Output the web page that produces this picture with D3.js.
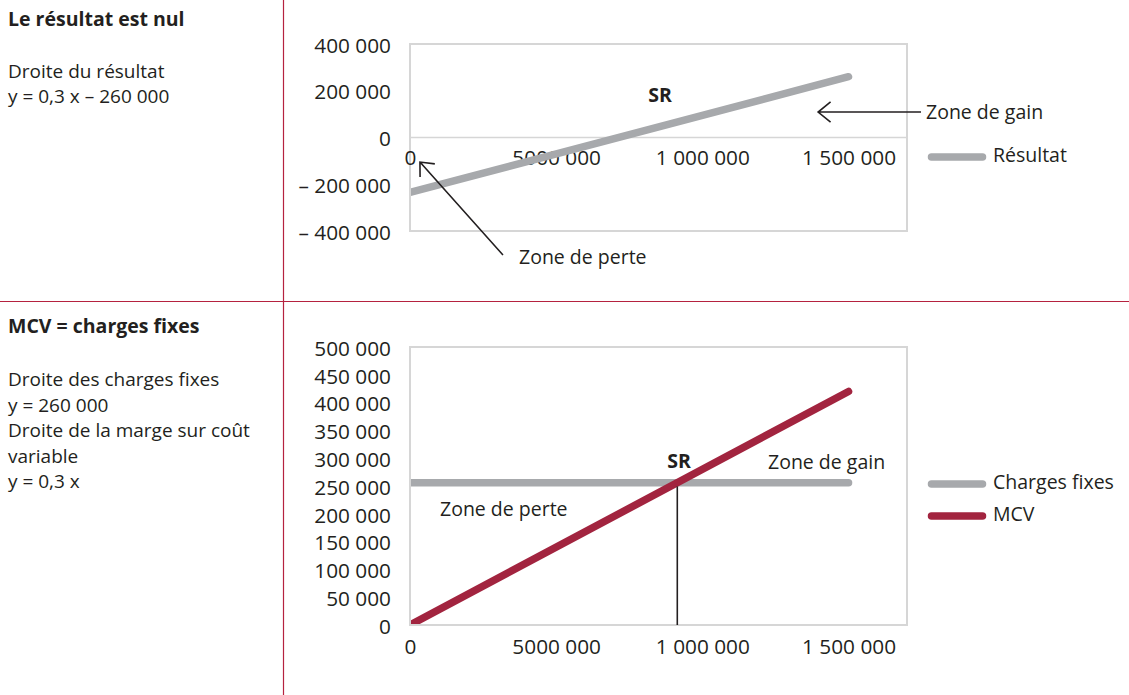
<!DOCTYPE html>
<html>
<head>
<meta charset="utf-8">
<script src="https://cdn.jsdelivr.net/npm/d3@7"></script>
<style>
  html, body { margin: 0; padding: 0; background: #fff; }
  svg { display: block; }
  text { font-family: "Open Sans", "Noto Sans", sans-serif; fill: #231f20; }
</style>
</head>
<body>
<svg id="chart" width="1129" height="695"></svg>
<script>
// ---- Data ----------------------------------------------------------------
// Shared x axis (quantité / chiffre d'affaires)
const xTickValues = [0, 500000, 1000000, 1500000];
const xTickLabels = ["0", "5000 000", "1 000 000", "1 500 000"];

// Panel 1 : droite du résultat
const resultatX = [0, 1500000];
const resultatY = [-235000, 260000];
const topYTicks = [-400000, -200000, 0, 200000, 400000];

// Panel 2 : charges fixes et marge sur coût variable
const chargesFixesX = [0, 1500000];
const chargesFixesY = [256000, 256000];
const mcvX = [0, 1500000];
const mcvY = [0, 420000];
const bottomYTicks = [0, 50000, 100000, 150000, 200000, 250000, 300000, 350000, 400000, 450000, 500000];

// Side texts
const topTitle = "Le résultat est nul";
const topLines = ["Droite du résultat", "y = 0,3 x – 260 000"];
const bottomTitle = "MCV = charges fixes";
const bottomLines = ["Droite des charges fixes", "y = 260 000", "Droite de la marge sur coût", "variable", "y = 0,3 x"];

// ---- Styles --------------------------------------------------------------
const GREY = "#a7a9ac";
const RED = "#a2243f";
const RULE = "#b5223f";
const FRAME = "#d6d6d6";
const INK = "#231f20";
const FS = 19.5;      // body text
const FS_NUM = 20.8;  // axis numbers

const svg = d3.select("#chart");
const fr = d3.formatLocale({ decimal: ",", thousands: " ", grouping: [3], currency: ["", ""], minus: "– " });
const fmt = fr.format(",d");

// Page rules
svg.append("line").attr("x1", 283.5).attr("x2", 283.5).attr("y1", 0).attr("y2", 695)
  .attr("stroke", RULE).attr("stroke-width", 1.2);
svg.append("line").attr("x1", 0).attr("x2", 1129).attr("y1", 301.5).attr("y2", 301.5)
  .attr("stroke", RULE).attr("stroke-width", 1.2);

// Side texts
function sideText(title, lines, titleY, firstY, step) {
  svg.append("text").attr("x", 8).attr("y", titleY)
    .attr("font-size", FS).attr("font-weight", 700).text(title);
  lines.forEach((t, i) => {
    svg.append("text").attr("x", 8).attr("y", firstY + i * step)
      .attr("font-size", 19).text(t);
  });
}
sideText(topTitle, topLines, 26, 77.5, 25);
sideText(bottomTitle, bottomLines, 333, 386, 25.5);

// Common x scale
const left = 410, right = 907;
const x = d3.scaleLinear().domain([0, 1700000]).range([left, right]);

function panel(id, yScale, yTicks, yLabelDy, xLabelY) {
  const [bottom, top] = yScale.range();
  const g = svg.append("g");
  // plot frame
  g.append("rect").attr("x", left).attr("y", top).attr("width", right - left).attr("height", bottom - top)
    .attr("fill", "none").attr("stroke", FRAME).attr("stroke-width", 2);
  // clip for the series
  svg.append("clipPath").attr("id", id).append("rect")
    .attr("x", left + 1).attr("y", top + 1).attr("width", right - left - 2).attr("height", bottom - top - 2);

  // y axis labels
  const ya = d3.axisLeft(yScale).tickValues(yTicks).tickFormat(fmt).tickSize(0).tickPadding(0);
  const yg = g.append("g").attr("transform", `translate(${left - 19},0)`).call(ya);
  yg.select(".domain").remove();
  yg.selectAll("text").attr("font-size", FS_NUM).attr("font-family", null).attr("fill", INK)
    .attr("dy", yLabelDy);

  // x axis labels
  const xa = d3.axisBottom(x).tickValues(xTickValues)
    .tickFormat((d, i) => xTickLabels[i]).tickSize(0).tickPadding(0);
  const xg = g.append("g").attr("transform", `translate(0,${xLabelY})`).call(xa);
  xg.select(".domain").remove();
  xg.selectAll("text").attr("font-size", FS_NUM).attr("font-family", null).attr("fill", INK)
    .attr("dy", 0).attr("y", 0);
  return g;
}

function series(g, clipId, xs, ys, yScale, color) {
  const pts = xs.map((v, i) => [v, ys[i]]);
  g.append("path").datum(pts)
    .attr("clip-path", `url(#${clipId})`)
    .attr("d", d3.line().x(d => x(d[0])).y(d => yScale(d[1])))
    .attr("fill", "none").attr("stroke", color).attr("stroke-width", 7.5)
    .attr("stroke-linecap", "round");
}

function legendItem(y, color, label) {
  svg.append("line").attr("x1", 931.5).attr("x2", 982.5).attr("y1", y).attr("y2", y)
    .attr("stroke", color).attr("stroke-width", 7.5).attr("stroke-linecap", "round");
  svg.append("text").attr("x", 993).attr("y", y + 4.5).attr("font-size", FS).text(label);
}

function arrow(x1, y1, x2, y2, len, ang) {
  // shaft from (x1,y1) to the tip (x2,y2), open chevron head at the tip
  const a = Math.atan2(y1 - y2, x1 - x2);
  const p1 = [x2 + len * Math.cos(a + ang), y2 + len * Math.sin(a + ang)];
  const p2 = [x2 + len * Math.cos(a - ang), y2 + len * Math.sin(a - ang)];
  svg.append("path")
    .attr("d", `M${x1},${y1}L${x2},${y2}M${p1[0]},${p1[1]}L${x2},${y2}L${p2[0]},${p2[1]}`)
    .attr("fill", "none").attr("stroke", INK).attr("stroke-width", 1.6);
}

function label(xp, yp, t, opts = {}) {
  svg.append("text").attr("x", xp).attr("y", yp).attr("font-size", FS)
    .attr("font-weight", opts.bold ? 700 : 400)
    .attr("text-anchor", opts.anchor || "start").text(t);
}

// ---- Panel 1 : résultat --------------------------------------------------
const y1 = d3.scaleLinear().domain([-400000, 400000]).range([231, 44]);
const g1 = panel("clip-top", y1, topYTicks, 8, 165);
// zero line
g1.append("line").attr("x1", left).attr("x2", right).attr("y1", y1(0)).attr("y2", y1(0))
  .attr("stroke", FRAME).attr("stroke-width", 1.5);
series(g1, "clip-top", resultatX, resultatY, y1, GREY);

label(660, 102, "SR", { bold: true, anchor: "middle" });
arrow(x(318000), y1(-503000), x(34000), y1(-105000), 15, 0.72);
label(519, 264, "Zone de perte");
arrow(x(1748000), y1(109000), x(1396000), y1(109000), 16, 0.68);
label(926, 118.5, "Zone de gain");
legendItem(157, GREY, "Résultat");

// ---- Panel 2 : MCV et charges fixes --------------------------------------
const y2 = d3.scaleLinear().domain([0, 500000]).range([625, 347]);
const g2 = panel("clip-bottom", y2, bottomYTicks, 8.3, 653.5);
series(g2, "clip-bottom", chargesFixesX, chargesFixesY, y2, GREY);
series(g2, "clip-bottom", mcvX, mcvY, y2, RED);

// seuil de rentabilité : intersection of the two lines
const slope = (mcvY[1] - mcvY[0]) / (mcvX[1] - mcvX[0]);
const srX = (chargesFixesY[0] - mcvY[0]) / slope;
svg.append("line").attr("x1", x(srX)).attr("x2", x(srX))
  .attr("y1", y2(chargesFixesY[0]) + 3.75).attr("y2", y2(0))
  .attr("stroke", INK).attr("stroke-width", 1.6);

label(679, 467.5, "SR", { bold: true, anchor: "middle" });
label(440, 516, "Zone de perte");
label(768, 468.5, "Zone de gain");
legendItem(484, GREY, "Charges fixes");
legendItem(516, RED, "MCV");
</script>
</body>
</html>
